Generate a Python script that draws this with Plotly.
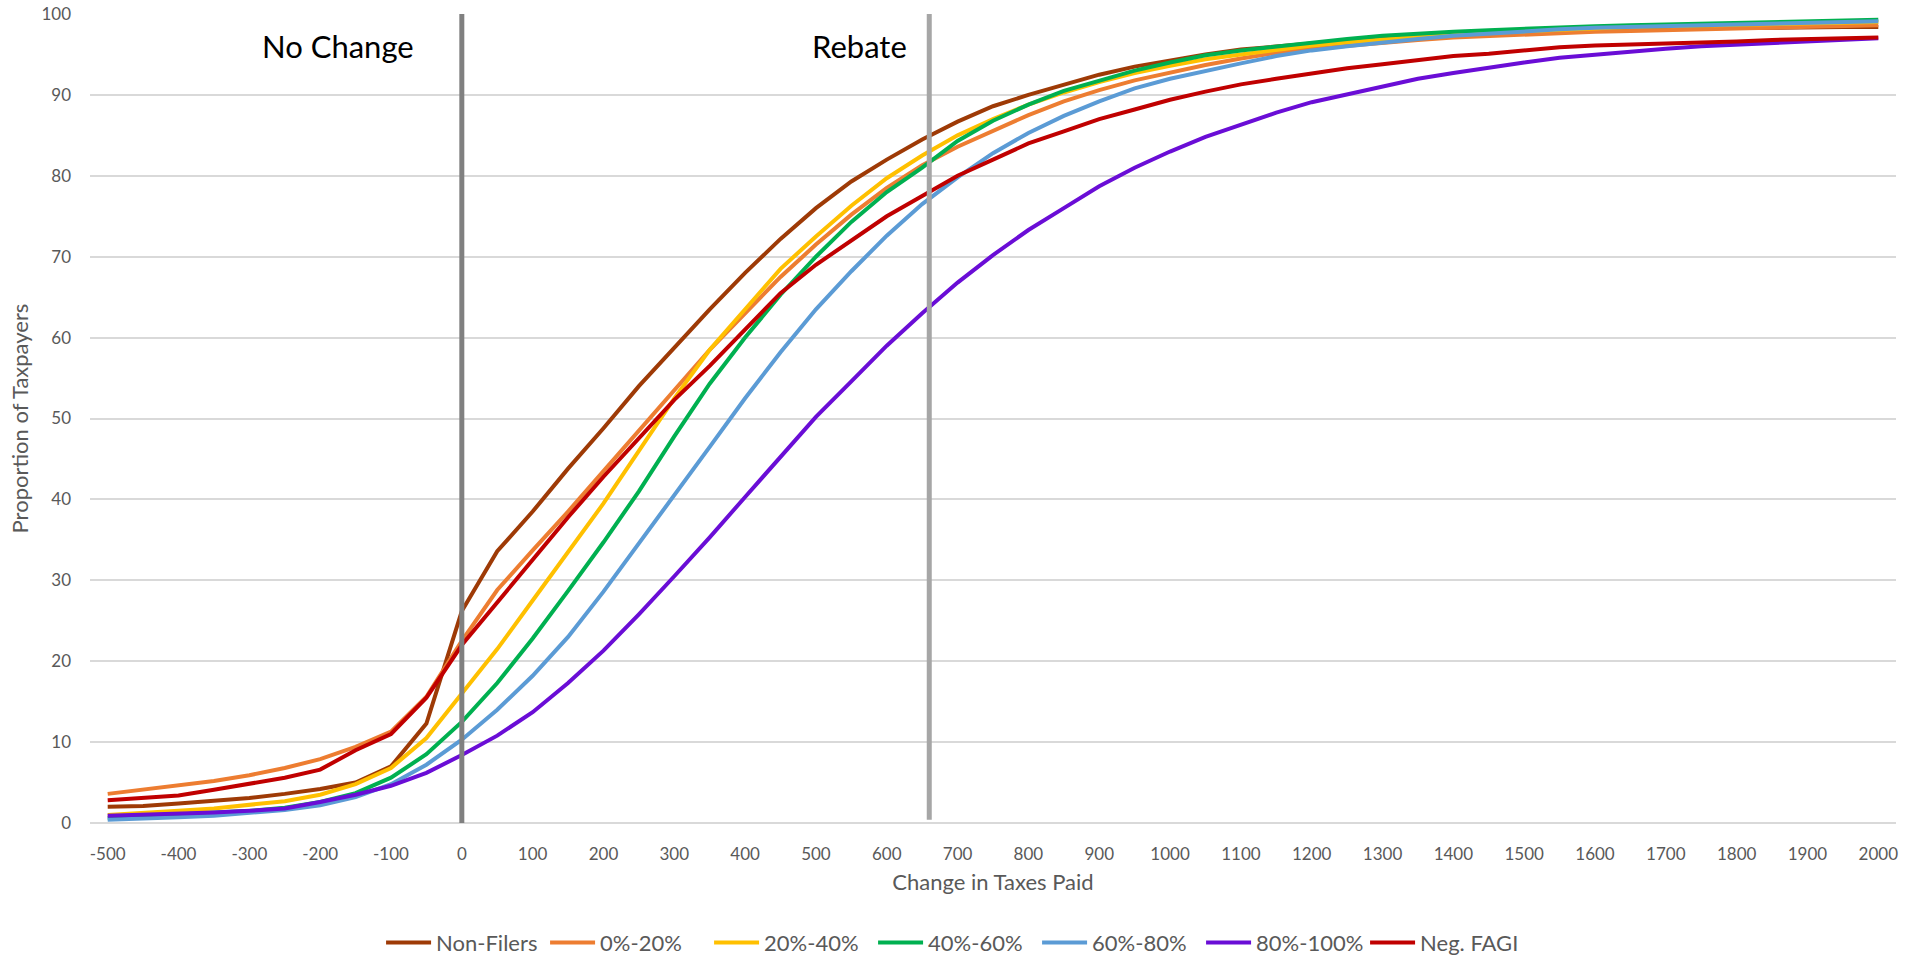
import plotly.graph_objects as go

x_vals = list(range(-500, 2001, 50))

non_filers = [2.0, 2.1, 2.4, 2.7, 3.1, 3.6, 4.2, 5.0, 7.0, 12.3, 26.2, 33.6, 38.5, 43.8, 48.8, 54.0, 58.8, 63.5, 68.0, 72.2,
              76.0, 79.3, 82.0, 84.5, 86.7, 88.6, 90.0, 91.3, 92.5, 93.5, 94.3, 95.0, 95.6, 96.0, 96.4, 96.8, 97.1, 97.3,
              97.5, 97.7, 97.8, 97.9, 98.0, 98.1, 98.2, 98.2, 98.3, 98.3, 98.4, 98.4, 98.4]
q0_20 = [3.6, 4.1, 4.6, 5.2, 5.9, 6.8, 7.9, 9.4, 11.3, 15.6, 22.5, 28.8, 33.7, 38.5, 43.5, 48.5, 53.5, 58.5, 63.0, 67.5,
         71.5, 75.2, 78.5, 81.3, 83.6, 85.6, 87.5, 89.2, 90.6, 91.8, 92.8, 93.7, 94.5, 95.2, 95.7, 96.1, 96.5, 96.8,
         97.1, 97.3, 97.5, 97.7, 97.8, 97.9, 98.0, 98.1, 98.2, 98.3, 98.4, 98.5, 98.6]
q20_40 = [1.0, 1.2, 1.5, 1.8, 2.2, 2.7, 3.5, 4.8, 6.8, 10.5, 16.0, 21.5, 27.5, 33.5, 39.5, 46.0, 52.5, 58.5, 63.5, 68.5,
          72.5, 76.3, 79.7, 82.5, 85.0, 87.0, 88.8, 90.3, 91.6, 92.7, 93.6, 94.4, 95.0, 95.6, 96.1, 96.5, 96.9, 97.2,
          97.5, 97.7, 97.9, 98.1, 98.3, 98.4, 98.5, 98.6, 98.7, 98.8, 98.9, 99.0, 99.0]
q40_60 = [0.6, 0.8, 1.0, 1.2, 1.5, 1.9, 2.6, 3.7, 5.6, 8.5, 12.5, 17.3, 22.8, 28.7, 34.7, 41.0, 47.8, 54.3, 60.0, 65.3,
          70.0, 74.3, 78.0, 81.0, 84.3, 86.8, 88.8, 90.5, 91.8, 93.0, 94.0, 94.9, 95.5, 96.0, 96.5, 96.9, 97.3, 97.6,
          97.8, 98.0, 98.2, 98.4, 98.5, 98.6, 98.7, 98.8, 98.9, 99.0, 99.1, 99.2, 99.3]
q60_80 = [0.4, 0.5, 0.7, 0.9, 1.2, 1.6, 2.2, 3.2, 4.8, 7.2, 10.3, 14.0, 18.2, 23.0, 28.6, 34.5, 40.5, 46.5, 52.5, 58.2,
          63.5, 68.2, 72.6, 76.5, 79.8, 82.8, 85.3, 87.4, 89.2, 90.8, 92.0, 93.0, 93.9, 94.8, 95.5, 96.0, 96.5, 96.9,
          97.3, 97.6, 97.9, 98.1, 98.3, 98.4, 98.5, 98.6, 98.8, 98.9, 99.0, 99.1, 99.1]
q80_100 = [0.9, 1.0, 1.1, 1.3, 1.5, 1.8, 2.6, 3.5, 4.6, 6.2, 8.4, 10.8, 13.7, 17.3, 21.3, 25.8, 30.5, 35.3, 40.3, 45.3,
           50.2, 54.6, 59.0, 63.0, 66.8, 70.2, 73.3, 76.0, 78.7, 81.0, 83.0, 84.8, 86.3, 87.8, 89.1, 90.1, 91.1, 92.0,
           92.7, 93.4, 94.0, 94.6, 95.0, 95.4, 95.7, 96.0, 96.2, 96.4, 96.6, 96.8, 97.0]
neg_fagi = [2.8, 3.1, 3.4, 4.1, 4.8, 5.6, 6.6, 9.0, 11.0, 15.5, 22.0, 27.3, 32.5, 37.8, 42.8, 47.5, 52.3, 56.5, 61.0, 65.5,
            69.0, 72.0, 75.0, 77.5, 80.0, 82.0, 84.0, 85.5, 87.0, 88.2, 89.4, 90.4, 91.3, 92.0, 92.7, 93.3, 93.8, 94.3,
            94.8, 95.1, 95.5, 95.9, 96.1, 96.2, 96.3, 96.5, 96.6, 96.8, 96.9, 97.0, 97.1]

series_names = ["Non-Filers", "0%-20%", "20%-40%", "40%-60%", "60%-80%", "80%-100%", "Neg. FAGI"]
series_values = [non_filers, q0_20, q20_40, q40_60, q60_80, q80_100, neg_fagi]
colors = ["#9E3A06", "#ED7D31", "#FFC000", "#00B050", "#5B9BD5", "#6A0DD6", "#C00000"]

tick_vals = list(range(-500, 2001, 100))
tick_text = [str(v) for v in tick_vals]
no_change_x = 0
rebate_x = 660

fig = go.Figure()
for name, vals, col in zip(series_names, series_values, colors):
    fig.add_trace(go.Scatter(x=x_vals, y=vals, mode="lines", name=name,
                             line=dict(color=col, width=4)))

fig.add_shape(type="line", x0=no_change_x, x1=no_change_x, y0=0, y1=100.5, xref="x", yref="y",
              line=dict(color="#808080", width=5))
fig.add_shape(type="line", x0=rebate_x, x1=rebate_x, y0=0.4, y1=100.5, xref="x", yref="y",
              line=dict(color="#A6A6A6", width=5))

fig.add_annotation(x=no_change_x, y=96, xref="x", yref="y", text="No Change", showarrow=False,
                   xanchor="right", xshift=-46, font=dict(family="Lato", size=31, color="#000000"))
fig.add_annotation(x=rebate_x, y=96, xref="x", yref="y", text="Rebate", showarrow=False,
                   xanchor="right", xshift=-20, font=dict(family="Lato", size=31, color="#000000"))

fig.update_layout(
    width=1923, height=956,
    margin=dict(l=90, r=27, t=14, b=133, autoexpand=False),
    paper_bgcolor="white", plot_bgcolor="white",
    font=dict(family="Lato", size=17, color="#595959"),
    legend=dict(orientation="h", x=0.479, xanchor="center", y=-0.148, yanchor="middle",
                font=dict(size=22, color="#595959"), itemwidth=45, tracegroupgap=0,
                entrywidth=104, entrywidthmode="pixels"),
    xaxis=dict(range=[-525, 2025], tickvals=tick_vals, ticktext=tick_text, showgrid=False, zeroline=False,
               showline=False, ticks="", tickfont=dict(size=17, color="#595959"), ticklabelstandoff=19,
               automargin=False, ticklabeloverflow="allow",
               title=dict(text="Change in Taxes Paid", font=dict(size=22, color="#595959"), standoff=11)),
    yaxis=dict(range=[0, 100], dtick=10, showgrid=True, gridcolor="#D9D9D9", gridwidth=1.5,
               zeroline=True, zerolinecolor="#D9D9D9", zerolinewidth=1.5, showline=False, ticks="",
               tickfont=dict(size=17, color="#595959"), ticklabelstandoff=18, automargin=False,
               ticklabeloverflow="allow",
               title=dict(text="Proportion of Taxpayers", font=dict(size=22, color="#595959"), standoff=6)),
)

fig.write_html("out.html", config={"displayModeBar": False},
               post_script="document.body.style.margin='0';document.body.style.overflow='hidden';")
